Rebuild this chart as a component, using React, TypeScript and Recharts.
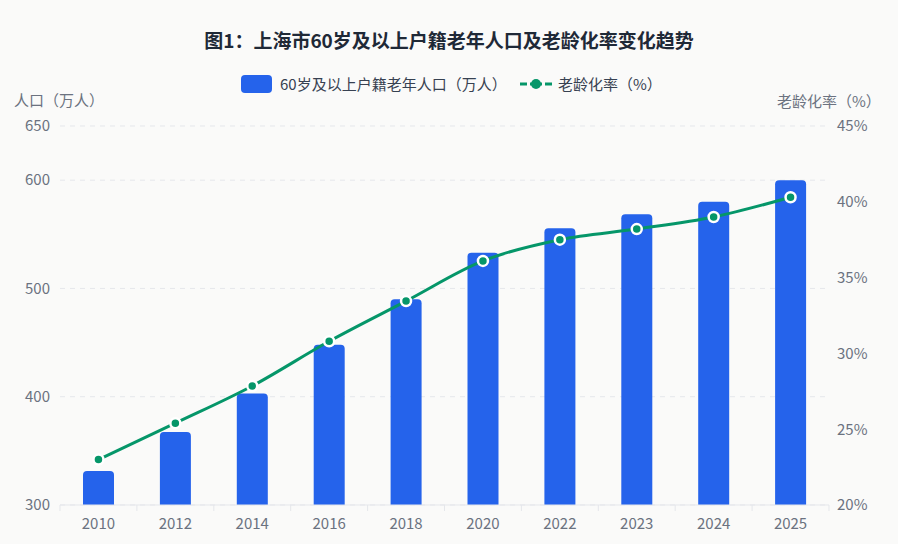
import {
  ComposedChart,
  Bar,
  Line,
  XAxis,
  YAxis,
  CartesianGrid,
} from "recharts";

const years = ["2010", "2012", "2014", "2016", "2018", "2020", "2022", "2023", "2024", "2025"];
const elderlyPopulation = [331.5, 367.5, 403, 448, 490, 533, 555.5, 568.5, 580, 600];
const agingRate = [23.0, 25.4, 27.85, 30.8, 33.45, 36.1, 37.5, 38.2, 39.0, 40.3];
const leftTicks = [300, 400, 500, 600, 650];
const rightTicks = [20, 25, 30, 35, 40, 45];

const FONT = '"Noto Sans CJK SC", "Noto Sans", sans-serif';
const BLUE = "#2563eb";
const GREEN = "#059669";
const GRAY = "#6b7280";
const AXIS = "#e5e7eb";

const chartData = years.map((year, i) => ({
  year,
  population: elderlyPopulation[i],
  rate: agingRate[i],
}));

// plot spans 769px over 10 categories; echarts-style ticks sit on band edges
const HALF_BAND = 769 / years.length / 2;

function XTick(props: any) {
  const { x, y, payload, index } = props;
  const last = index === years.length - 1;
  return (
    <g>
      <line x1={x - HALF_BAND} x2={x - HALF_BAND} y1={y - 8} y2={y - 2} stroke={AXIS} />
      {last && <line x1={x + HALF_BAND} x2={x + HALF_BAND} y1={y - 8} y2={y - 2} stroke={AXIS} />}
      <text x={x} y={y + 16} textAnchor="middle" fill={GRAY} fontSize={15} fontFamily={FONT}>
        {payload.value}
      </text>
    </g>
  );
}

const legendText = { position: "absolute" as const, top: 73, fontSize: 15, color: "#374151", lineHeight: "22px" };

export default function App() {
  return (
    <div
      style={{
        position: "fixed",
        left: 0,
        top: 0,
        width: 898,
        height: 544,
        background: "#fafaf9",
        fontFamily: FONT,
      }}
    >
      <div
        style={{
          position: "absolute",
          top: 26,
          width: "100%",
          textAlign: "center",
          fontSize: 19,
          fontWeight: 700,
          color: "#1f2937",
        }}
      >
        图1：上海市60岁及以上户籍老年人口及老龄化率变化趋势
      </div>

      {/* legend */}
      <div style={{ position: "absolute", top: 75, left: 241, width: 31, height: 18, background: BLUE, borderRadius: 4 }} />
      <div style={{ ...legendText, left: 280 }}>60岁及以上户籍老年人口（万人）</div>
      <svg width={32} height={12} style={{ position: "absolute", left: 520, top: 78 }}>
        <line x1={0} x2={32} y1={6} y2={6} stroke={GREEN} strokeWidth={3} strokeDasharray="7 3 12 3 7" />
        <circle cx={16} cy={6} r={5} fill={GREEN} />
      </svg>
      <div style={{ ...legendText, left: 558 }}>老龄化率（%）</div>

      <div style={{ position: "absolute", top: 89, left: 14, fontSize: 15, color: GRAY }}>人口（万人）</div>
      <div style={{ position: "absolute", top: 90, left: 777, fontSize: 15, color: GRAY }}>老龄化率（%）</div>

      <ComposedChart
        width={898}
        height={544}
        data={chartData}
        margin={{ top: 126, right: 0, bottom: 0, left: 0 }}
        style={{ position: "absolute", left: 0, top: 0 }}
      >
        <CartesianGrid
          yAxisId="left"
          vertical={false}
          stroke={AXIS}
          strokeDasharray="5 5"
        />
        <XAxis
          dataKey="year"
          height={39}
          axisLine={{ stroke: AXIS }}
          tickLine={false}
          tick={<XTick />}
          interval={0}
        />
        <YAxis
          yAxisId="left"
          orientation="left"
          width={60}
          domain={[300, 650]}
          ticks={leftTicks}
          axisLine={false}
          tickLine={false}
          tick={{ fill: GRAY, fontSize: 15, fontFamily: FONT }}
          tickMargin={4}
        />
        <YAxis
          yAxisId="right"
          orientation="right"
          width={69}
          domain={[20, 45]}
          ticks={rightTicks}
          tickFormatter={(v: number) => `${v}%`}
          axisLine={false}
          tickLine={false}
          tick={{ fill: GRAY, fontSize: 15, fontFamily: FONT }}
          tickMargin={2}
        />
        <Bar
          yAxisId="left"
          dataKey="population"
          fill={BLUE}
          barSize={31}
          radius={[4, 4, 0, 0]}
          isAnimationActive={false}
        />
        <Line
          yAxisId="right"
          type="monotone"
          dataKey="rate"
          stroke={GREEN}
          strokeWidth={3}
          dot={{ r: 5, fill: GREEN, stroke: "#ffffff", strokeWidth: 2.5 }}
          isAnimationActive={false}
        />
      </ComposedChart>
    </div>
  );
}
